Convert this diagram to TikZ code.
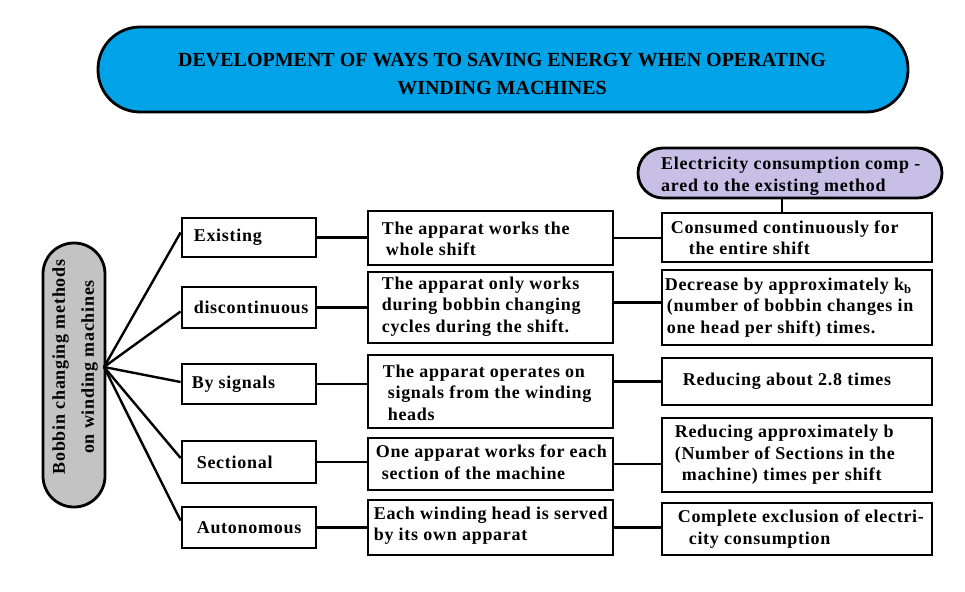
\documentclass[tikz,border=0pt]{standalone}
\usepackage{fontspec}
\setmainfont{Liberation Serif}[LetterSpace=4]
\newfontfamily\titlefont{Liberation Serif}
\definecolor{titleblue}{HTML}{00A2E8}
\definecolor{lav}{HTML}{C8BFE7}
\definecolor{gbox}{HTML}{C3C3C3}
\begin{document}
\begin{tikzpicture}[x=1pt,y=-1pt,
  box/.style={draw, line width=2.8pt, inner sep=0pt},
  pill/.style={draw, line width=2.8pt, inner sep=0pt},
  txt/.style={anchor=west, align=left, inner sep=0pt, font=\bfseries\fontsize{18}{21.5}\selectfont},
  link/.style={line width=2.4pt}]
\useasboundingbox (0,0) rectangle (965,591);
\fill[white] (0,0) rectangle (965,591);

% title
\node[pill, fill=titleblue, rounded corners=42, minimum width=810, minimum height=85] (title) at (503,69.5) {};
\node[align=center, inner sep=0pt, font=\titlefont\bfseries\fontsize{20}{28}\selectfont] (titlet) at (502,74)
  {DEVELOPMENT OF WAYS TO SAVING ENERGY WHEN OPERATING\\WINDING MACHINES};

% electricity header
\node[pill, fill=lav, rounded corners=25, minimum width=304, minimum height=50] (el) at (790,173) {};
\node[txt] (elt) at (661,176) {Electricity consumption comp -\\ared to the existing method};

% left pill
\node[pill, fill=gbox, rounded corners=30.9, minimum width=62, minimum height=264] (lb) at (74,375) {};
\node[rotate=90, align=center, inner sep=0pt, font=\bfseries\fontsize{18}{29}\selectfont] (lbt) at (75,367)
  {Bobbin changing methods\\on winding machines};
\coordinate (hub) at (104,367);

% left boxes
\node[box, minimum width=134, minimum height=39] (l1) at (249,237.5) {};
\node[box, minimum width=134, minimum height=41] (l2) at (249,307.5) {};
\node[box, minimum width=134, minimum height=40] (l3) at (249,384) {};
\node[box, minimum width=134, minimum height=42] (l4) at (249,462) {};
\node[box, minimum width=134, minimum height=41] (l5) at (249,527.5) {};
\node[txt] (l1t) at ([xshift=13pt]l1.west) {Existing};
\node[txt] (l2t) at ([xshift=13pt]l2.west) {discontinuous};
\node[txt] (l3t) at ([xshift=11pt]l3.west) {By signals};
\node[txt] (l4t) at ([xshift=16pt]l4.west) {Sectional};
\node[txt] (l5t) at ([xshift=16pt]l5.west) {Autonomous};

% middle boxes
\node[box, minimum width=245, minimum height=54] (m1) at (490.5,238) {};
\node[box, minimum width=245, minimum height=71] (m2) at (490.5,307.5) {};
\node[box, minimum width=245, minimum height=73] (m3) at (490.5,391.5) {};
\node[box, minimum width=245, minimum height=52] (m4) at (490.5,464) {};
\node[box, minimum width=245, minimum height=55] (m5) at (490.5,527.5) {};
\node[txt] (m1t) at ([xshift=15pt,yshift=-1pt]m1.west) {The apparat works the\\\hspace*{4pt}whole shift};
\node[txt] (m2t) at ([xshift=15pt,yshift=1pt]m2.west) {The apparat only works\\during bobbin changing\\cycles during the shift.};
\node[txt] (m3t) at ([xshift=16pt,yshift=-1pt]m3.west) {The apparat operates on\\\hspace*{5pt}signals from the winding\\\hspace*{5pt}heads};
\node[txt] (m4t) at ([xshift=9pt,yshift=2pt]m4.west) {One apparat works for each\\\hspace*{6pt}section of the machine};
\node[txt] (m5t) at ([xshift=7pt,yshift=2pt]m5.west) {Each winding head is served\\by its own apparat};

% right boxes
\node[box, minimum width=270, minimum height=49] (r1) at (797,237.5) {};
\node[box, minimum width=270, minimum height=75] (r2) at (797,307.5) {};
\node[box, minimum width=270, minimum height=47] (r3) at (797,381.5) {};
\node[box, minimum width=270, minimum height=74] (r4) at (797,455) {};
\node[box, minimum width=270, minimum height=52] (r5) at (797,529) {};
\node[txt] (r1t) at ([xshift=10pt]r1.west) {Consumed continuously for\\\hspace*{18pt}the entire shift};
\node[txt] (r2t) at ([xshift=4pt]r2.west) {Decrease by approximately k\textsubscript{b}\\\hspace*{2pt}(number of bobbin changes in\\\hspace*{2pt}one head per shift) times.};
\node[txt] (r3t) at ([xshift=22pt]r3.west) {Reducing about 2.8 times};
\node[txt] (r4t) at ([xshift=14pt]r4.west) {Reducing approximately b\\(Number of Sections in the\\\hspace*{7pt}machine) times per shift};
\node[txt] (r5t) at ([xshift=17pt]r5.west) {Complete exclusion of electri-\\\hspace*{11pt}city consumption};

% connectors from hub
\draw[link] (hub) -- ([yshift=5pt]l1.west);
\draw[link] (hub) -- ([yshift=-4pt]l2.west);
\draw[link] (hub) -- ([yshift=2pt]l3.west);
\draw[link] (hub) -- ([yshift=4pt]l4.west);
\draw[link] (hub) -- ([yshift=7pt]l5.west);

% left to middle
\draw[link] (l1.east) -- (l1.east -| m1.west);
\draw[link] (l2.east) -- (l2.east -| m2.west);
\draw[link] (l3.east) -- (l3.east -| m3.west);
\draw[link] (l4.east) -- (l4.east -| m4.west);
\draw[link] (l5.east) -- (l5.east -| m5.west);

% middle to right
\draw[link] (m1.east) -- (m1.east -| r1.west);
\draw[link] ([yshift=5pt]m2.east) -- ([yshift=5pt]m2.east -| r2.west);
\draw[link] (r3.west -| m3.east) -- (r3.west);
\draw[link] (m4.east) -- (m4.east -| r4.west);
\draw[link] (m5.east) -- (m5.east -| r5.west);

% header to first result
\draw[link] ([xshift=-8pt]el.south) -- ([xshift=-8pt]el.south |- r1.north);
\end{tikzpicture}
\end{document}
